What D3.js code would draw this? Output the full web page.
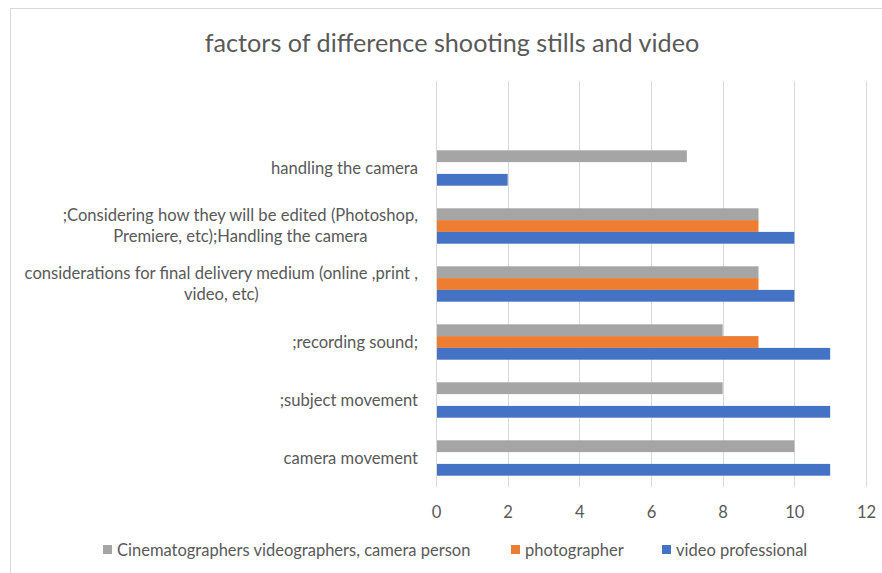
<!DOCTYPE html>
<html>
<head>
<meta charset="utf-8">
<script src="https://cdn.jsdelivr.net/npm/d3@7/dist/d3.min.js"></script>
<style>
  html, body { margin: 0; padding: 0; background: #ffffff; }
  svg { display: block; }
  text { font-family: Lato, "Open Sans", sans-serif; fill: #595959; }
</style>
</head>
<body>
<svg id="chart" width="882" height="573"></svg>
<script>
// Categories, bottom to top (the top slot is an empty row)
const categories = [
  "camera movement",
  ";subject movement",
  ";recording sound;",
  "considerations for final delivery medium (online ,print , video, etc)",
  ";Considering how they will be edited (Photoshop, Premiere, etc);Handling the camera",
  "handling the camera",
  ""
];

const seriesNames = [
  "Cinematographers videographers, camera person",
  "photographer",
  "video professional"
];

// Values per series, aligned with categories (null = no response)
const cinematographers = [10, 8, 8, 9, 9, 7, null];
const photographer     = [null, null, 9, 9, 9, null, null];
const videoProfessional = [11, 11, 11, 10, 10, 2, null];

const xTicks = [0, 2, 4, 6, 8, 10, 12];

const seriesValues = [cinematographers, photographer, videoProfessional];
const colors = ["#a5a5a5", "#ed7d31", "#4472c4"];

const svg = d3.select("#chart");

// chart frame
svg.append("rect")
  .attr("x", 10.5).attr("y", 8.5)
  .attr("width", 900).attr("height", 600)
  .attr("fill", "#fff")
  .attr("stroke", "#d9d9d9").attr("stroke-width", 1);

const plot = { left: 436, right: 866, top: 81, bottom: 487 };

const x = d3.scaleLinear().domain([0, 12]).range([plot.left, plot.right]);
const y = d3.scaleBand().domain(categories).range([plot.bottom, plot.top]);
const groupH = y.bandwidth() * 0.61;
const ySub = d3.scaleBand().domain(seriesNames)
  .range([(y.bandwidth() - groupH) / 2, (y.bandwidth() + groupH) / 2]);

const labelSize = "16.6px";

// title
svg.append("text")
  .attr("x", 452).attr("y", 52)
  .attr("text-anchor", "middle")
  .style("font-size", "25.2px")
  .text("factors of difference shooting stills and video");

// vertical gridlines
svg.append("g")
  .selectAll("line")
  .data(xTicks.slice(1))
  .join("line")
  .attr("x1", d => Math.round(x(d)) + 0.5).attr("x2", d => Math.round(x(d)) + 0.5)
  .attr("y1", plot.top).attr("y2", plot.bottom)
  .attr("stroke", "#d9d9d9").attr("stroke-width", 1);

// x axis tick labels
const xAxis = d3.axisBottom(x).tickValues(xTicks).tickSize(0).tickPadding(0);
const gx = svg.append("g").attr("transform", `translate(0,${plot.bottom})`).call(xAxis);
gx.select(".domain").remove();
gx.selectAll("text")
  .attr("dy", null).attr("y", 31)
  .style("font-size", labelSize)
  .style("font-family", "Lato, sans-serif")
  .attr("fill", "#595959");

// bars
const rows = categories.map((c, i) => ({ c, vals: seriesNames.map((s, k) => ({ s, k, v: seriesValues[k][i] })) }));
const groups = svg.append("g")
  .selectAll("g")
  .data(rows)
  .join("g")
  .attr("transform", d => `translate(0,${y(d.c)})`);
groups.selectAll("rect")
  .data(d => d.vals.filter(v => v.v != null))
  .join("rect")
  .attr("x", x(0))
  .attr("y", d => ySub(d.s))
  .attr("width", d => x(d.v) - x(0))
  .attr("height", ySub.bandwidth())
  .attr("fill", d => colors[d.k]);

// vertical category axis line
svg.append("line")
  .attr("x1", plot.left + 0.5).attr("x2", plot.left + 0.5)
  .attr("y1", plot.top).attr("y2", plot.bottom)
  .attr("stroke", "#d9d9d9");

// category labels, wrapped and centred as a block right-aligned to the axis
const labelRight = 418;
const maxLabelW = 400;
const labelG = svg.append("g");
categories.forEach(c => {
  if (!c) return;
  const t = labelG.append("text").style("font-size", labelSize).attr("text-anchor", "middle");
  const words = c.split(" ");
  const lines = [];
  let cur = [];
  const probe = labelG.append("text").style("font-size", labelSize);
  words.forEach(w => {
    const test = cur.concat([w]).join(" ");
    probe.text(test);
    if (probe.node().getComputedTextLength() > maxLabelW && cur.length) {
      lines.push(cur.join(" "));
      cur = [w];
    } else cur.push(w);
  });
  lines.push(cur.join(" "));
  let blockW = 0;
  lines.forEach(l => { probe.text(l); blockW = Math.max(blockW, probe.node().getComputedTextLength()); });
  probe.remove();
  const cx = labelRight - blockW / 2;
  const lh = 21;
  const cy = y(c) + y.bandwidth() / 2;
  lines.forEach((l, i) => {
    t.append("tspan")
      .attr("x", cx)
      .attr("y", cy + (i - (lines.length - 1) / 2) * lh)
      .attr("dy", "0.35em")
      .text(l);
  });
});

// legend
const legendItems = [
  { name: seriesNames[0], x: 103 },
  { name: seriesNames[1], x: 511 },
  { name: seriesNames[2], x: 662 }
];
const lg = svg.append("g");
legendItems.forEach((d, i) => {
  lg.append("rect").attr("x", d.x).attr("y", 545).attr("width", 9).attr("height", 9).attr("fill", colors[i]);
  lg.append("text").attr("x", d.x + 14).attr("y", 550).attr("dy", "0.35em")
    .style("font-size", "16.5px").text(d.name);
});
</script>
</body>
</html>
